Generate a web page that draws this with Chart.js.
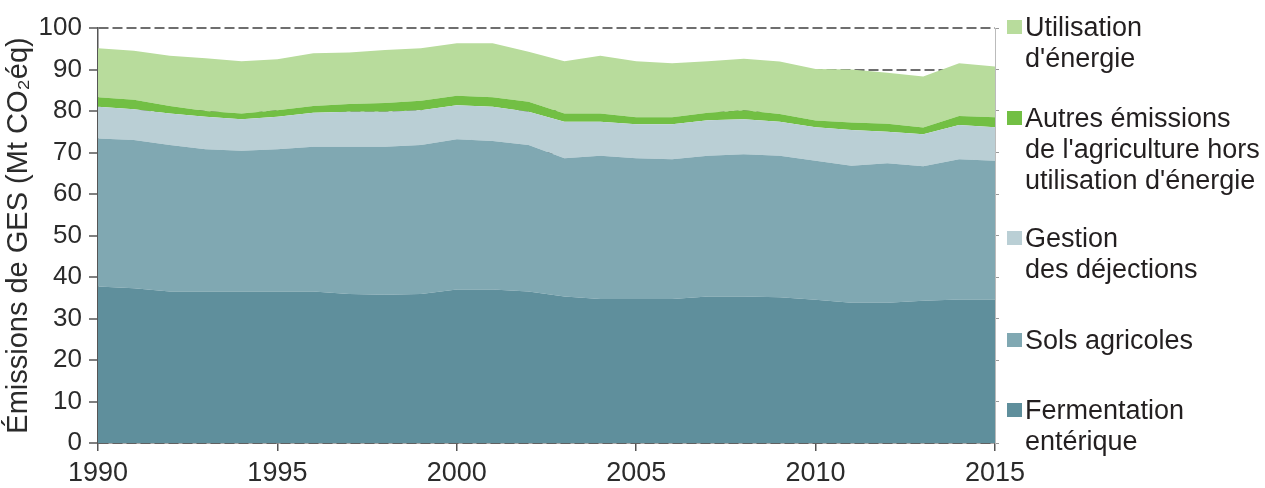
<!DOCTYPE html>
<html lang="fr">
<head>
<meta charset="utf-8">
<script src="https://cdn.jsdelivr.net/npm/chart.js@4/dist/chart.umd.min.js"></script>
<style>
  html, body { margin: 0; padding: 0; background: #fff; }
  #wrap { position: relative; width: 1265px; height: 488px; }
  #legend { position: absolute; left: 1007px; top: 0; font-family: 'Liberation Sans', Arial, sans-serif; font-size: 27px; line-height: 31px; color: #231f20; }
  .item { position: absolute; left: 0; white-space: nowrap; }
  .box { position: absolute; left: 0; top: 8px; width: 15px; height: 14px; }
  .txt { position: absolute; left: 18px; top: 0; }
</style>
</head>
<body>
<div id="wrap">
  <canvas id="chart" width="1265" height="488"></canvas>
  <div id="legend"></div>
</div>
<script>
// ==== DONNÉES ====
const years = [1990, 1991, 1992, 1993, 1994, 1995, 1996, 1997, 1998, 1999, 2000, 2001, 2002,
  2003, 2004, 2005, 2006, 2007, 2008, 2009, 2010, 2011, 2012, 2013, 2014, 2015];

// Mt CO2 éq, de bas en haut (empilé)
const fermentation = [37.7, 37.3, 36.5, 36.5, 36.5, 36.5, 36.5, 35.9, 35.7, 35.9, 37.0, 37.0, 36.5,
  35.3, 34.7, 34.7, 34.7, 35.3, 35.3, 35.1, 34.5, 33.8, 33.8, 34.3, 34.6, 34.6];
const sols = [35.7, 35.7, 35.3, 34.3, 33.9, 34.3, 34.9, 35.5, 35.7, 35.9, 36.2, 35.8, 35.3,
  33.3, 34.5, 33.9, 33.7, 33.9, 34.3, 34.1, 33.5, 33.0, 33.6, 32.4, 33.8, 33.4];
const dejections = [7.6, 7.4, 7.6, 7.8, 7.6, 7.8, 8.2, 8.4, 8.4, 8.4, 8.2, 8.2, 8.0,
  8.8, 8.2, 8.2, 8.4, 8.6, 8.4, 8.2, 8.1, 8.6, 7.6, 7.7, 8.2, 8.1];
const autres = [2.3, 2.3, 1.8, 1.4, 1.4, 1.6, 1.6, 1.9, 2.1, 2.3, 2.3, 2.3, 2.4,
  2.0, 2.0, 1.7, 1.7, 1.8, 2.2, 1.9, 1.6, 1.8, 1.9, 1.6, 2.2, 2.4];
const energie = [11.8, 11.8, 12.1, 12.7, 12.6, 12.3, 12.7, 12.4, 12.8, 12.6, 12.6, 13.0, 12.1,
  12.6, 13.9, 13.5, 13.0, 12.4, 12.4, 12.6, 12.4, 12.8, 12.3, 12.3, 12.7, 12.2];

const seriesNames = [
  ["Fermentation", "entérique"],
  ["Sols agricoles"],
  ["Gestion", "des déjections"],
  ["Autres émissions", "de l'agriculture hors", "utilisation d'énergie"],
  ["Utilisation", "d'énergie"]
];
const seriesValues = [fermentation, sols, dejections, autres, energie];
const seriesColors = ["#5f8f9c", "#80a8b2", "#bacfd5", "#72bf44", "#b8dc9c"];

// position verticale des entrées de légende (haut -> bas)
const legendTops = [395, 325, 223, 103, 12];

// ==== LÉGENDE HTML ====
const legendEl = document.getElementById("legend");
seriesNames.forEach((lines, i) => {
  const item = document.createElement("div");
  item.className = "item";
  item.style.top = legendTops[i] + "px";
  item.innerHTML = `<span class="box" style="background:${seriesColors[i]}"></span>
                    <span class="txt">${lines.join("<br>")}</span>`;
  legendEl.appendChild(item);
});

// ==== GRAPHIQUE ====
Chart.defaults.font.family = "'Liberation Sans', Arial, sans-serif";
Chart.defaults.color = "#2b2b2b";

const datasets = seriesValues.map((vals, i) => ({
  label: seriesNames[i].join(" "),
  data: vals.map((v, k) => ({ x: years[k], y: v })),
  backgroundColor: seriesColors[i],
  borderWidth: 0,
  pointRadius: 0,
  tension: 0,
  fill: i === 0 ? "origin" : "-1",
}));

new Chart(document.getElementById("chart").getContext("2d"), {
  type: "line",
  data: { datasets: datasets },
  options: {
    responsive: false,
    animation: false,
    layout: { padding: { top: 28, right: 265, bottom: 0, left: 0 } },
    plugins: { legend: { display: false }, tooltip: { enabled: false } },
    scales: {
      x: {
        type: "linear",
        min: 1990,
        max: 2015,
        ticks: { stepSize: 5, padding: 6, font: { size: 27 }, callback: (v) => String(v) },
        grid: { drawOnChartArea: false, tickLength: 8, color: "#555", lineWidth: 1.5 },
        border: { color: "#555", width: 1.5 },
        afterFit: (scale) => { scale.height = 45; },
      },
      y: {
        stacked: true,
        min: 0,
        max: 100,
        ticks: { stepSize: 10, padding: 7, font: { size: 26 } },
        grid: { color: "#6e6e6e", lineWidth: 2, tickLength: 9, tickColor: "#555", tickWidth: 1.5, tickBorderDash: [] },
        border: { color: "#555", width: 1.5, dash: [10, 4] },
        title: {
          display: true,
          text: "Émissions de GES (Mt CO₂éq)",
          font: { size: 29, lineHeight: 1.2 },
          padding: { top: 2, bottom: 0 },
          color: "#2b2b2b",
        },
        afterFit: (scale) => { scale.width = 98; },
      },
      y2: {
        position: "right",
        min: 0,
        max: 100,
        ticks: { display: false, stepSize: 10 },
        grid: { drawOnChartArea: false, tickLength: 4, color: "#999" },
        border: { color: "#bbb", width: 1 },
        afterFit: (scale) => { scale.width = 5; },
      },
    },
  },
});
</script>
</body>
</html>
